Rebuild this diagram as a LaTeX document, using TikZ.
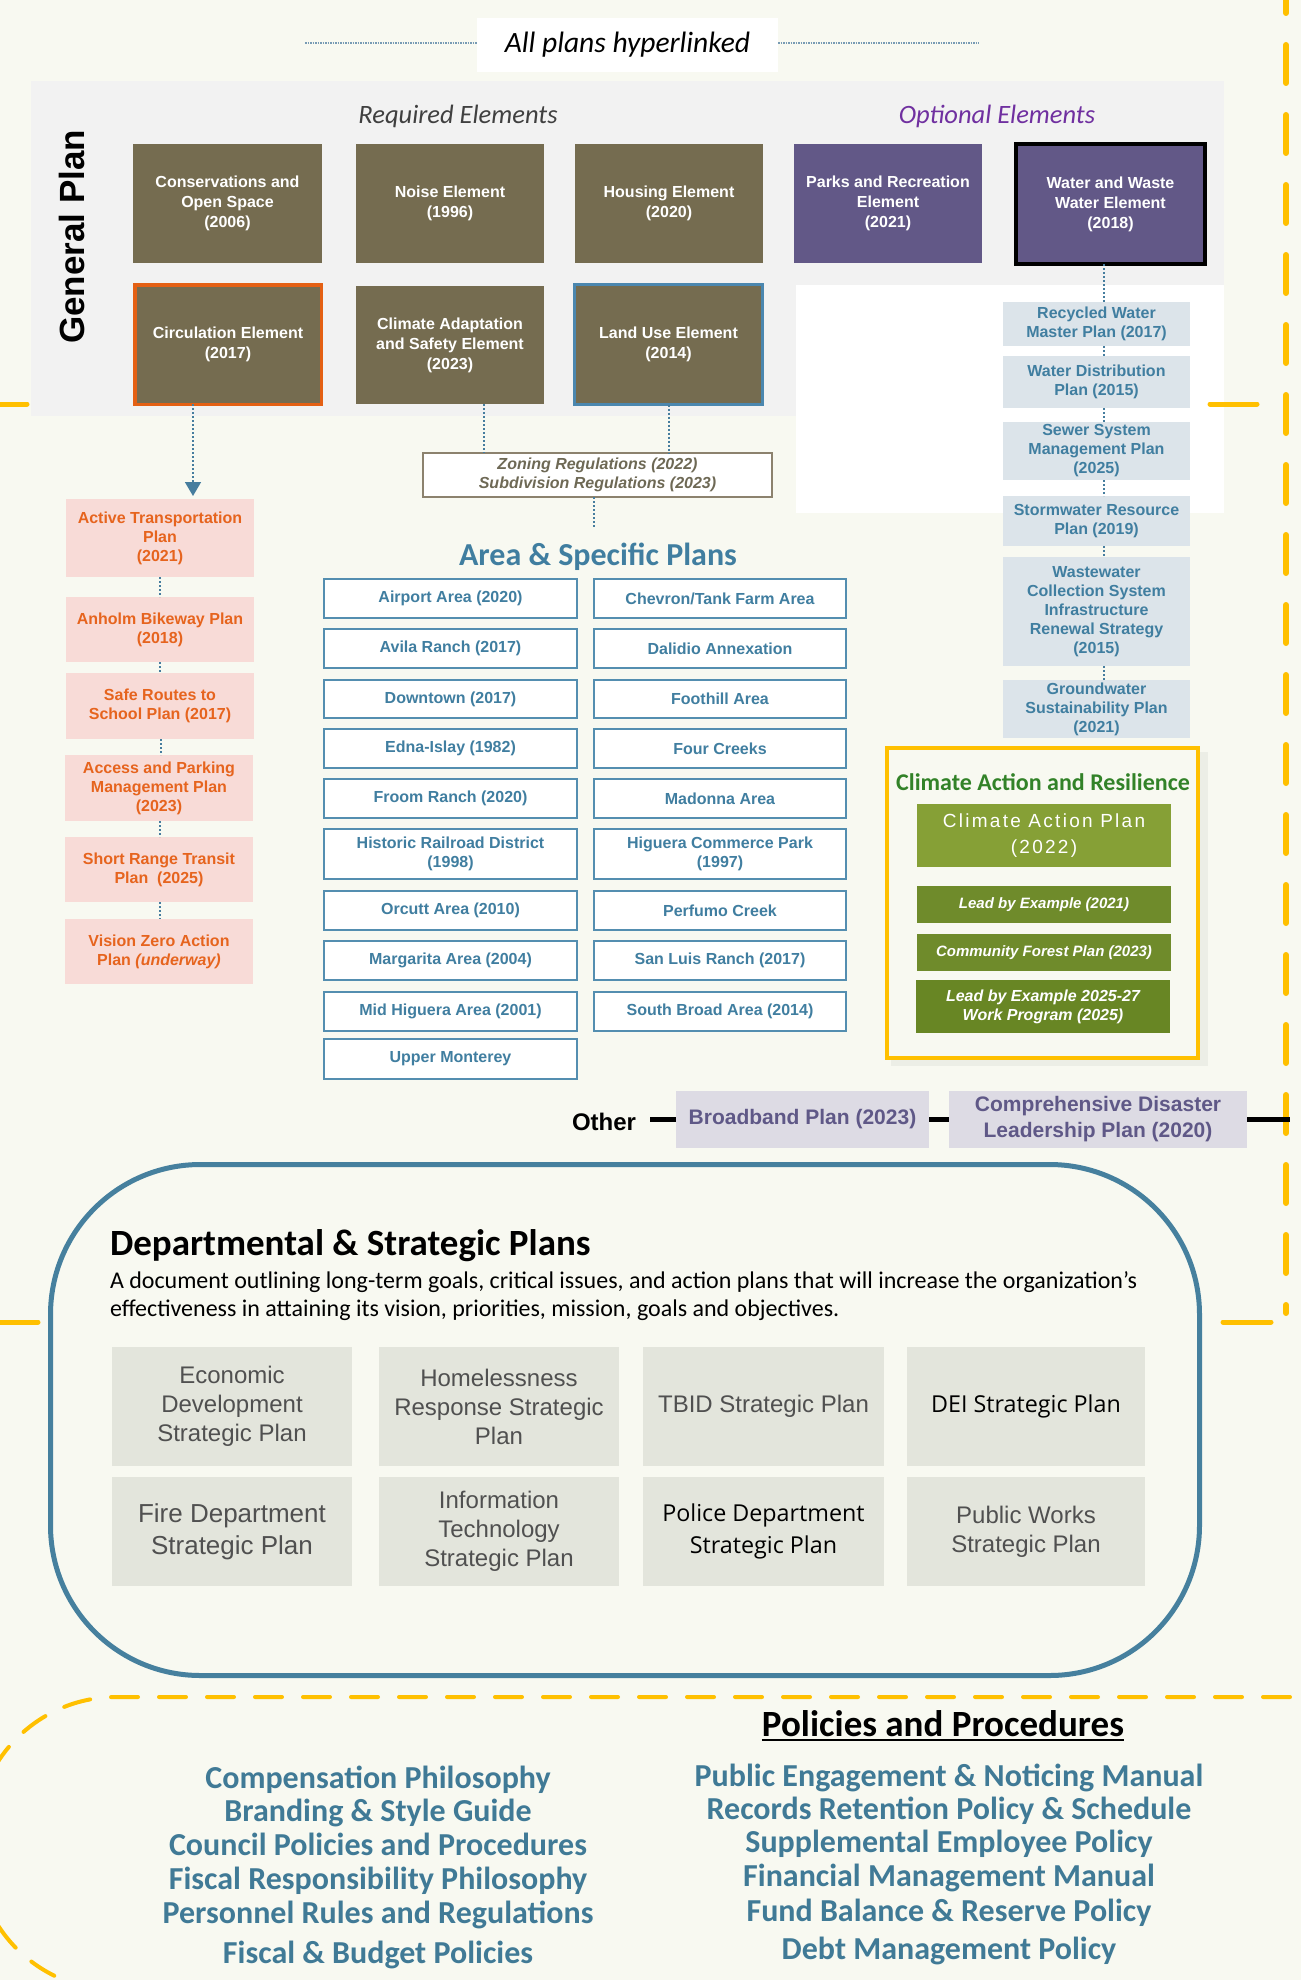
\documentclass[tikz,border=0pt]{standalone}
\usepackage{fontspec}
\setmainfont{Liberation Sans}
\newfontfamily\calib{Carlito}
\newfontfamily\osans{Open Sans}
\newfontfamily\capfont[LetterSpace=12]{Liberation Sans}
\usetikzlibrary{arrows.meta,calc}
\definecolor{bgc}{RGB}{248,249,241}
\definecolor{panel}{RGB}{242,242,242}
\definecolor{olv}{RGB}{117,108,80}
\definecolor{prp}{RGB}{98,88,135}
\definecolor{optp}{RGB}{112,48,160}
\definecolor{orn}{RGB}{230,100,30}
\definecolor{orb}{RGB}{228,96,20}
\definecolor{pnk}{RGB}{248,219,215}
\definecolor{ablue}{RGB}{64,126,160}
\definecolor{abord}{RGB}{84,142,176}
\definecolor{lbl}{RGB}{220,228,234}
\definecolor{yel}{RGB}{255,192,0}
\definecolor{grt}{RGB}{50,130,40}
\definecolor{gcap}{RGB}{134,160,54}
\definecolor{gdark}{RGB}{111,139,43}
\definecolor{gdk2}{RGB}{104,134,36}
\definecolor{dept}{RGB}{70,128,158}
\definecolor{sgray}{RGB}{227,229,220}
\definecolor{stext}{RGB}{80,80,80}
\definecolor{pblue}{RGB}{64,122,150}
\definecolor{lav}{RGB}{221,219,228}
\definecolor{lavt}{RGB}{95,88,135}
\definecolor{dotc}{RGB}{70,125,158}
\definecolor{hdotc}{RGB}{120,155,180}
\definecolor{zon}{RGB}{110,105,85}
\definecolor{zonb}{RGB}{140,130,110}
\definecolor{shad}{RGB}{236,238,230}
\definecolor{lub}{RGB}{75,135,175}
\definecolor{reqt}{RGB}{64,64,64}
\begin{document}
\begin{tikzpicture}[x=1pt,y=-1pt,
  every node/.style={inner sep=0pt, outer sep=0pt, align=center},
  olivebox/.style={fill=olv, text=white, font=\fontsize{16}{20}\selectfont\bfseries},
  purplebox/.style={fill=prp, text=white, font=\fontsize{16}{20}\selectfont\bfseries},
  pinkbox/.style={fill=pnk, text=orn, font=\fontsize{16}{19}\selectfont\bfseries, minimum width=188pt},
  lbbox/.style={fill=lbl, text=ablue, font=\fontsize{16}{19}\selectfont\bfseries, minimum width=187pt},
  areabox/.style={draw=abord, line width=2pt, fill=white, text=ablue, font=\fontsize{16}{19}\selectfont\bfseries},
  arealeft/.style={areabox, minimum width=253pt},
  arearight/.style={areabox, minimum width=252pt},
  stratbox/.style={fill=sgray, text=stext, font=\fontsize{24}{29}\selectfont},
  dotl/.style={draw=dotc, line width=1.6pt, dash pattern=on 2pt off 2pt},
  hdot/.style={draw=hdotc, line width=1.6pt, dash pattern=on 1.5pt off 1pt},
  ydash/.style={draw=yel, line width=4pt, dash pattern=on 27pt off 21pt, line cap=round},
  yvert/.style={draw=yel, line width=6pt, dash pattern=on 38pt off 32pt, line cap=round},
  yseg/.style={draw=yel, line width=5pt, line cap=round},
  blk/.style={draw=black, line width=4.5pt},
  polleft/.style={text=pblue, font=\calib\fontsize{32}{36}\selectfont\bfseries, anchor=base},
  greenbox/.style={text=white, minimum width=254pt}
]
\useasboundingbox (0,0) rectangle (1301,1980);
\fill[bgc] (0,0) rectangle (1301,1980);

% yellow dashed frames
\draw[yvert] (1286,-25) -- (1286,1313);
\draw[ydash] (1290,1697) -- (116,1697) arc[start angle=90,end angle=180,radius=140pt] -- (-24,1850) arc[start angle=180,end angle=270,radius=140pt] -- (1290,1990);

% top label
\node[fill=white, minimum width=301pt, minimum height=54pt, font=\calib\itshape\fontsize{29.5}{33}\selectfont] (aph) at (627.5,45) {All plans hyperlinked};
\coordinate (tl) at (305,43);
\coordinate (tr) at (979,43);
\draw[hdot] (tl) -- (aph.west |- tl);
\draw[hdot] (aph.east |- tr) -- (tr);

% general plan panel
\fill[panel] (31,81) rectangle (1224,416);
\fill[white] (796,285) rectangle (1224,513);
\draw[yseg] (0,404) -- (27,404);
\draw[yseg] (1210,404) -- (1257,404);
\draw[yseg] (0,1322) -- (38,1322);
\draw[yseg] (1223,1322) -- (1271,1322);

\node[rotate=90, font=\fontsize{35}{40}\selectfont\bfseries] (gp) at (72,237) {General Plan};
\node[text=reqt, font=\calib\itshape\fontsize{26.5}{30}\selectfont] (req) at (458,116) {Required Elements};
\node[text=optp, font=\calib\itshape\fontsize{26.5}{30}\selectfont] (opt) at (997,116) {Optional Elements};

\node[olivebox, minimum width=189pt, minimum height=119pt] (cons) at (227.5,203.5) {Conservations and\\Open Space\\(2006)};
\node[olivebox, minimum width=188pt, minimum height=119pt] (noise) at (450,203.5) {Noise Element\\(1996)};
\node[olivebox, minimum width=188pt, minimum height=119pt] (housing) at (669,203.5) {Housing Element\\(2020)};
\node[purplebox, minimum width=188pt, minimum height=119pt] (parks) at (888,203.5) {Parks and Recreation\\Element\\(2021)};
\node[purplebox, draw=black, line width=4pt, minimum width=189pt, minimum height=120pt] (water) at (1110.5,204) {Water and Waste\\Water Element\\(2018)};

\node[olivebox, draw=orb, line width=3.5pt, minimum width=186.5pt, minimum height=119.5pt] (circ) at (228,344.5) {Circulation Element\\(2017)};
\node[olivebox, minimum width=188pt, minimum height=118pt] (cadapt) at (450,345) {Climate Adaptation\\and Safety Element\\(2023)};
\node[olivebox, draw=lub, line width=3pt, minimum width=188pt, minimum height=120pt] (landuse) at (668.5,344.5) {Land Use Element\\(2014)};

% water plans
\node[lbbox, minimum height=44pt] (recyc) at (1096.5,324) {Recycled Water\\Master Plan (2017)};
\node[lbbox, minimum height=52pt] (wdist) at (1096.5,382) {Water Distribution\\Plan (2015)};
\node[lbbox, minimum height=58pt] (sewer) at (1096.5,451) {Sewer System\\Management Plan\\(2025)};
\node[lbbox, minimum height=50pt] (storm) at (1096.5,521) {Stormwater Resource\\Plan (2019)};
\node[lbbox, minimum height=109pt] (wastew) at (1096.5,611.5) {Wastewater\\Collection System\\Infrastructure\\Renewal Strategy\\(2015)};
\node[lbbox, minimum height=58pt] (ground) at (1096.5,709) {Groundwater\\Sustainability Plan\\(2021)};
\draw[dotl] ([xshift=-6.5pt]water.south) -- ([xshift=7.5pt]recyc.north);
\draw[dotl] ([xshift=7.5pt]recyc.south) -- ([xshift=7.5pt]wdist.north);
\draw[dotl] ([xshift=7.5pt]wdist.south) -- ([xshift=7.5pt]sewer.north);
\draw[dotl] ([xshift=7.5pt]sewer.south) -- ([xshift=7.5pt]storm.north);
\draw[dotl] ([xshift=7.5pt]storm.south) -- ([xshift=7.5pt]wastew.north);
\draw[dotl] ([xshift=7.5pt]wastew.south) -- ([xshift=7.5pt]ground.north);

% circulation plans
\node[pinkbox, minimum height=78pt] (atp) at (160,538) {Active Transportation\\Plan\\(2021)};
\node[pinkbox, minimum height=65pt] (anholm) at (160,629.5) {Anholm Bikeway Plan\\(2018)};
\node[pinkbox, minimum height=66pt] (safe) at (160,706) {Safe Routes to\\School Plan (2017)};
\node[pinkbox, minimum height=66pt] (access) at (159,788) {Access and Parking\\Management Plan\\(2023)};
\node[pinkbox, minimum height=65pt] (srtp) at (159,869.5) {Short Range Transit\\Plan~~(2025)};
\node[pinkbox, minimum height=65pt] (vz) at (159,951.5) {Vision Zero Action\\Plan \textit{(underway)}};
\draw[dotl, -{Triangle[width=16pt,length=14pt]}] ([xshift=-35pt]circ.south) -- ([xshift=33pt,yshift=3pt]atp.north);
\draw[dotl] (atp.south) -- (anholm.north);
\draw[dotl] (anholm.south) -- (safe.north);
\draw[dotl] ([xshift=1pt]safe.south) -- ([xshift=2pt]access.north);
\draw[dotl] ([xshift=1pt]access.south) -- ([xshift=1pt]srtp.north);
\draw[dotl] ([xshift=1pt]srtp.south) -- ([xshift=1pt]vz.north);

% zoning
\node[draw=zonb, line width=1.5pt, fill=white, text=zon, minimum width=349pt, minimum height=44pt, font=\fontsize{16}{19}\selectfont\bfseries\itshape] (zoning) at (597.5,475) {Zoning Regulations (2022)\\Subdivision Regulations (2023)};
\draw[dotl] ([xshift=34pt]cadapt.south) -- ([xshift=-113.5pt]zoning.north);
\draw[dotl] ([xshift=0.5pt]landuse.south) -- ([xshift=71.5pt]zoning.north);
\coordinate (zend) at (594,528);
\draw[dotl] ([xshift=-3.5pt]zoning.south) -- (zend);

% area & specific plans
\node[text=ablue, font=\calib\fontsize{32}{36}\selectfont\bfseries] (areat) at (598,557) {Area \& Specific Plans};
\node[arealeft, minimum height=39pt] (a1) at (450.5,598.5) {Airport Area (2020)};
\node[arealeft, minimum height=39pt] (a2) at (450.5,648.5) {Avila Ranch (2017)};
\node[arealeft, minimum height=38pt] (a3) at (450.5,699) {Downtown (2017)};
\node[arealeft, minimum height=39pt] (a4) at (450.5,748.5) {Edna-Islay (1982)};
\node[arealeft, minimum height=39pt] (a5) at (450.5,798.5) {Froom Ranch (2020)};
\node[arealeft, minimum height=50pt] (a6) at (450.5,854) {Historic Railroad District\\(1998)};
\node[arealeft, minimum height=39pt] (a7) at (450.5,910.5) {Orcutt Area (2010)};
\node[arealeft, minimum height=39pt] (a8) at (450.5,960.5) {Margarita Area (2004)};
\node[arealeft, minimum height=39pt] (a9) at (450.5,1011.5) {Mid Higuera Area (2001)};
\node[arealeft, minimum height=40pt] (a10) at (450.5,1059) {Upper Monterey};
\node[arearight, minimum height=39pt] (b1) at (720,598.5) {Chevron/Tank Farm Area};
\node[arearight, minimum height=39pt] (b2) at (720,648.5) {Dalidio Annexation};
\node[arearight, minimum height=38pt] (b3) at (720,699) {Foothill Area};
\node[arearight, minimum height=39pt] (b4) at (720,748.5) {Four Creeks};
\node[arearight, minimum height=39pt] (b5) at (720,798.5) {Madonna Area};
\node[arearight, minimum height=50pt] (b6) at (720,854) {Higuera Commerce Park\\(1997)};
\node[arearight, minimum height=39pt] (b7) at (720,910.5) {Perfumo Creek};
\node[arearight, minimum height=39pt] (b8) at (720,960.5) {San Luis Ranch (2017)};
\node[arearight, minimum height=39pt] (b9) at (720,1011.5) {South Broad Area (2014)};

% climate action
\fill[shad] (891,752) rectangle (1208,1066);
\node[draw=yel, line width=4pt, fill=bgc, minimum width=311pt, minimum height=310pt] (clim) at (1042.5,903) {};
\node[text=grt, font=\calib\fontsize{24}{28}\selectfont\bfseries] (climt) at (1043,782) {Climate Action and Resilience};
\node[greenbox, fill=gcap, minimum height=63pt, font=\capfont\fontsize{19}{26}\selectfont] (cap) at (1044,835.5) {Climate Action Plan\\(2022)};
\node[greenbox, fill=gdark, minimum height=37pt, font=\fontsize{15}{18}\selectfont\bfseries\itshape] (lbe1) at (1044,904.5) {Lead by Example (2021)};
\node[greenbox, fill=gdark, minimum height=37pt, font=\fontsize{15}{18}\selectfont\bfseries\itshape] (cfp) at (1044,952.5) {Community Forest Plan (2023)};
\node[greenbox, fill=gdk2, minimum height=53pt, font=\fontsize{16}{19}\selectfont\bfseries\itshape] (lbe2) at (1043,1006.5) {Lead by Example 2025-27\\Work Program (2025)};

% other
\node[font=\fontsize{24}{28}\selectfont\bfseries] (other) at (604,1122) {Other};
\node[fill=lav, text=lavt, minimum width=253pt, minimum height=57pt, font=\fontsize{21}{26}\selectfont\bfseries] (broad) at (802.5,1119.5) {Broadband Plan (2023)};
\node[fill=lav, text=lavt, minimum width=298pt, minimum height=57pt, font=\fontsize{21}{26}\selectfont\bfseries] (comp) at (1098,1119.5) {Comprehensive Disaster\\Leadership Plan (2020)};
\coordinate (oend) at (1290,1119.5);
\draw[blk] ([xshift=14pt]other.east |- broad.west) -- (broad.west);
\draw[blk] (broad.east) -- (comp.west);
\draw[blk] (comp.east) -- (oend);

% departmental
\node[draw=dept, line width=5pt, rounded corners=150pt, fill=bgc, minimum width=1149pt, minimum height=511pt] (deptbox) at (625,1420) {};
\node[anchor=base west, font=\calib\fontsize{37}{42}\selectfont\bfseries] (deptt) at (110,1255) {Departmental \& Strategic Plans};
\node[anchor=base west, font=\calib\fontsize{24}{28}\selectfont] (desc1) at (110,1288) {A document outlining long-term goals, critical issues, and action plans that will increase the organization’s};
\node[anchor=base west, font=\calib\fontsize{24}{28}\selectfont] (desc2) at (110,1316) {effectiveness in attaining its vision, priorities, mission, goals and objectives.};

\node[stratbox, minimum width=240pt, minimum height=119pt] (s1) at (232,1406.5) {Economic\\Development\\Strategic Plan};
\node[stratbox, minimum width=240pt, minimum height=119pt] (s2) at (499,1406.5) {Homelessness\\Response Strategic\\Plan};
\node[stratbox, minimum width=241pt, minimum height=119pt] (s3) at (763.5,1406.5) {TBID Strategic Plan};
\node[stratbox, text=black, minimum width=238pt, minimum height=119pt, font=\osans\fontsize{23.3}{30}\selectfont] (s4) at (1026,1406.5) {DEI Strategic Plan};
\node[stratbox, minimum width=240pt, minimum height=109pt, font=\fontsize{26}{32}\selectfont] (s5) at (232,1531.5) {Fire Department\\Strategic Plan};
\node[stratbox, minimum width=240pt, minimum height=109pt] (s6) at (499,1531.5) {Information\\Technology\\Strategic Plan};
\node[stratbox, text=black, minimum width=241pt, minimum height=109pt, font=\osans\fontsize{23.3}{32}\selectfont] (s7) at (763.5,1531.5) {Police Department\\Strategic Plan};
\node[stratbox, minimum width=238pt, minimum height=109pt] (s8) at (1026,1531.5) {Public Works\\Strategic Plan};

% policies
\node[anchor=base, font=\calib\fontsize{37}{42}\selectfont\bfseries] (polt) at (943,1736) {Policies and Procedures};
\draw[line width=2.5pt] ([yshift=-4pt]polt.base west) -- ([yshift=-4pt]polt.base east);
\node[polleft] (pl1) at (378,1788) {Compensation Philosophy};
\node[polleft] (pl2) at (378,1821) {Branding \& Style Guide};
\node[polleft] (pl3) at (378,1855) {Council Policies and Procedures};
\node[polleft] (pl4) at (378,1889) {Fiscal Responsibility Philosophy};
\node[polleft] (pl5) at (378,1923) {Personnel Rules and Regulations};
\node[polleft] (pl6) at (378,1963) {Fiscal \& Budget Policies};
\node[polleft] (pr1) at (949,1786) {Public Engagement \& Noticing Manual};
\node[polleft] (pr2) at (949,1819) {Records Retention Policy \& Schedule};
\node[polleft] (pr3) at (949,1852) {Supplemental Employee Policy};
\node[polleft] (pr4) at (949,1886) {Financial Management Manual};
\node[polleft] (pr5) at (949,1921) {Fund Balance \& Reserve Policy};
\node[polleft] (pr6) at (949,1959) {Debt Management Policy};
\end{tikzpicture}
\end{document}
